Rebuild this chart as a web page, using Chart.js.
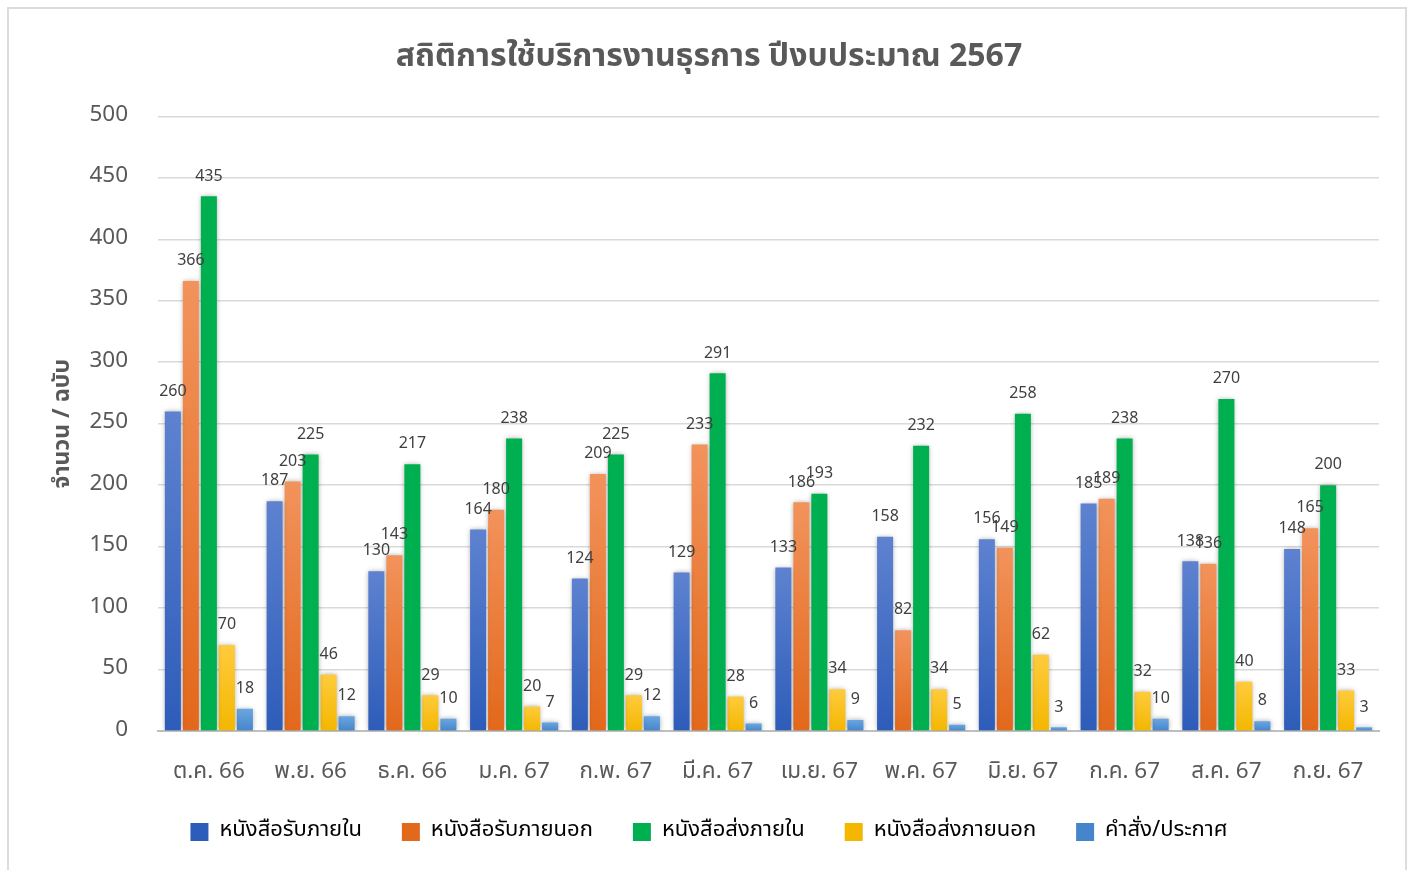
<!DOCTYPE html>
<html>
<head>
<meta charset="utf-8">
<script src="https://cdn.jsdelivr.net/npm/chart.js@4.4.1/dist/chart.umd.min.js"></script>
<style>
  html, body { margin: 0; padding: 0; background: #fff; }
  #box {
    position: absolute; left: 7px; top: 7px; width: 1400px; height: 870px;
    border: 2px solid #dcdcdc; box-sizing: border-box; background: #fff;
  }
  #wrap { position: absolute; left: 0; top: 0; width: 1396px; height: 862px; }
</style>
</head>
<body>
<div id="box"><div id="wrap"><canvas id="statChart"></canvas></div></div>
<script>
const months = ['ต.ค. 66', 'พ.ย. 66', 'ธ.ค. 66', 'ม.ค. 67', 'ก.พ. 67', 'มี.ค. 67',
  'เม.ย. 67', 'พ.ค. 67', 'มิ.ย. 67', 'ก.ค. 67', 'ส.ค. 67', 'ก.ย. 67'];
const seriesNames = ['หนังสือรับภายใน', 'หนังสือรับภายนอก', 'หนังสือส่งภายใน', 'หนังสือส่งภายนอก', 'คำสั่ง/ประกาศ'];
const recvInternal = [260, 187, 130, 164, 124, 129, 133, 158, 156, 185, 138, 148];
const recvExternal = [366, 203, 143, 180, 209, 233, 186, 82, 149, 189, 136, 165];
const sendInternal = [435, 225, 217, 238, 225, 291, 193, 232, 258, 238, 270, 200];
const sendExternal = [70, 46, 29, 20, 29, 28, 34, 34, 62, 32, 40, 33];
const orders = [18, 12, 10, 7, 12, 6, 9, 5, 3, 10, 8, 3];
const yTicks = [0, 50, 100, 150, 200, 250, 300, 350, 400, 450, 500];

const FONT = "'Noto Sans Thai', 'Noto Sans', sans-serif";
// top / bottom colour of each series gradient
const shades = [
  ['#5e82d0', '#2d5cb9'],
  ['#f2935c', '#e2681b'],
  ['#00b050', '#00b050'],
  ['#ffcb3d', '#f3b700'],
  ['#6aa6e0', '#4585cb']
];

function barFill(idx) {
  return (c) => {
    const chart = c.chart;
    const y = chart.scales.y;
    if (!y || c.raw === undefined) return shades[idx][1];
    const top = y.getPixelForValue(c.raw);
    const bottom = y.getPixelForValue(0);
    if (!isFinite(top) || bottom - top < 1) return shades[idx][1];
    const g = chart.ctx.createLinearGradient(0, top, 0, bottom);
    g.addColorStop(0, shades[idx][0]);
    g.addColorStop(1, shades[idx][1]);
    return g;
  };
}

const valueLabels = {
  id: 'valueLabels',
  afterDatasetsDraw(chart) {
    const ctx = chart.ctx;
    ctx.save();
    ctx.font = '16px ' + FONT;
    ctx.fillStyle = '#404040';
    ctx.textAlign = 'center';
    ctx.textBaseline = 'bottom';
    chart.data.datasets.forEach((ds, i) => {
      chart.getDatasetMeta(i).data.forEach((bar, j) => {
        ctx.fillText(ds.data[j], bar.x, bar.y - 11);
      });
    });
    ctx.restore();
  }
};

const barShadow = {
  id: 'barShadow',
  beforeDatasetDraw(chart) {
    const ctx = chart.ctx;
    ctx.save();
    ctx.shadowColor = 'rgba(0,0,0,0.35)';
    ctx.shadowBlur = 5;
    ctx.shadowOffsetX = 0;
    ctx.shadowOffsetY = 0;
  },
  afterDatasetDraw(chart) {
    chart.ctx.restore();
  }
};

const sets = [recvInternal, recvExternal, sendInternal, sendExternal, orders];

new Chart(document.getElementById('statChart'), {
  type: 'bar',
  data: {
    labels: months,
    datasets: sets.map((d, i) => ({
      label: seriesNames[i],
      data: d,
      backgroundColor: barFill(i),
      borderWidth: 0,
      categoryPercentage: 0.885,
      barPercentage: 0.89
    }))
  },
  plugins: [barShadow, valueLabels],
  options: {
    responsive: true,
    maintainAspectRatio: false,
    animation: false,
    layout: { padding: { left: 30, right: 26, top: 0, bottom: 18 } },
    plugins: {
      title: {
        display: true,
        text: 'สถิติการใช้บริการงานธุรการ ปีงบประมาณ 2567',
        color: '#595959',
        font: { family: FONT, size: 32, weight: 'bold' },
        padding: { top: 31, bottom: 38 }
      },
      legend: {
        position: 'bottom',
        labels: {
          color: '#595959',
          font: { family: FONT, size: 22 },
          boxWidth: 18,
          boxHeight: 18,
          padding: 40,
          generateLabels(chart) {
            return chart.data.datasets.map((ds, i) => ({
              text: ds.label,
              fillStyle: shades[i][1],
              strokeStyle: shades[i][1],
              lineWidth: 0,
              datasetIndex: i,
              hidden: false
            }));
          }
        }
      },
      tooltip: { enabled: false }
    },
    scales: {
      x: {
        grid: { display: false, drawTicks: false },
        border: { color: '#bfbfbf', width: 2 },
        ticks: { color: '#595959', font: { family: FONT, size: 22.5 }, padding: 29 },
        afterFit(scale) { scale.height -= 35; }
      },
      y: {
        min: 0,
        max: 500,
        afterBuildTicks(scale) { scale.ticks = yTicks.map(v => ({ value: v })); },
        afterFit(scale) { scale.width = 119; },
        grid: { color: '#d9d9d9', lineWidth: 1.5, drawTicks: false },
        border: { display: false },
        ticks: { color: '#595959', font: { family: FONT, size: 22.5 }, padding: 30 },
        title: {
          display: true,
          text: 'จำนวน / ฉบับ',
          color: '#595959',
          font: { family: FONT, size: 23, weight: 'bold' },
          padding: { top: 12, bottom: 0 }
        }
      }
    }
  }
});
</script>
</body>
</html>
